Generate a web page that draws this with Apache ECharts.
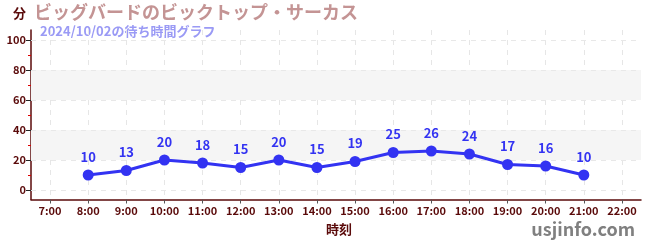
<!DOCTYPE html>
<html><head><meta charset="utf-8">
<script src="https://cdn.jsdelivr.net/npm/echarts@6/dist/echarts.min.js"></script>
<style>html,body{margin:0;padding:0;background:#fff}#c{width:650px;height:250px}</style>
</head><body><div id="c"></div>
<script>
const hours = [8, 9, 10, 11, 12, 13, 14, 15, 16, 17, 18, 19, 20, 21];
const waits = [10, 13, 20, 18, 15, 20, 15, 19, 25, 26, 24, 17, 16, 10];
const xTicks = [7, 8, 9, 10, 11, 12, 13, 14, 15, 16, 17, 18, 19, 20, 21, 22];
const yTicks = [0, 20, 40, 60, 80, 100];
const yMinor = [10, 30, 50, 70, 90];
const titleText = 'ビッグバードのビックトップ・サーカス';
const subText = '2024/10/02の待ち時間グラフ';

const chart = echarts.init(document.getElementById('c'), null, {renderer: 'canvas'});
const dark = '#5a0a0a';
const font = '"Noto Sans CJK JP", "Noto Sans", sans-serif';
chart.setOption({
  animation: false,
  textStyle: {fontFamily: font},
  graphic: [
    {type: 'text', left: 13, top: 7, style: {text: '分', fill: dark, font: 'bold 13px ' + font}},
    {type: 'text', left: 34, top: 3, style: {text: titleText, fill: '#c49494', font: 'bold 18px ' + font}},
    {type: 'text', left: 40, top: 25, style: {text: subText, fill: '#9a9af5', font: 'bold 13px ' + font}},
    {type: 'text', left: 326, top: 223, style: {text: '時刻', fill: dark, font: 'bold 13px ' + font}},
    {type: 'text', right: 15, top: 220, style: {text: 'usjinfo.com', fill: '#808080', font: 'bold 18px ' + font}}
  ],
  grid: {left: 31, right: 9, top: 30, bottom: 50.5, containLabel: false},
  xAxis: {
    type: 'value', min: 6.5, max: 22.5,
    axisLine: {show: true, onZero: false, lineStyle: {color: dark, width: 1.5}},
    axisTick: {show: true, customValues: xTicks, length: 4, lineStyle: {color: '#555'}},
    axisLabel: {customValues: xTicks, formatter: v => v + ':00', color: dark, fontSize: 11, fontWeight: 'bold', margin: 6},
    splitLine: {show: true, lineStyle: {color: '#e6e6e6', type: [5, 5]}}
  },
  yAxis: [{
    type: 'value', min: -6.33, max: 106.67,
    axisLine: {show: true, onZero: false, lineStyle: {color: dark, width: 1.5}},
    axisTick: {show: true, customValues: yTicks, length: 5, lineStyle: {color: '#222'}},
    axisLabel: {customValues: yTicks, color: dark, fontSize: 11, fontWeight: 'bold', margin: 5},
    splitLine: {show: false}
  }, {
    type: 'value', min: -6.33, max: 106.67, position: 'left',
    axisLine: {show: false, onZero: false},
    axisTick: {show: true, customValues: yMinor, length: 3, lineStyle: {color: '#dd0000'}},
    axisLabel: {show: false},
    splitLine: {show: false}
  }],
  series: [{
    type: 'line', data: [], markArea: {
      silent: true, itemStyle: {color: '#f5f5f5'},
      data: [[{yAxis: 20}, {yAxis: 40}], [{yAxis: 60}, {yAxis: 80}]]
    },
    markLine: {
      silent: true, symbol: 'none', label: {show: false},
      lineStyle: {color: '#e8e8e8', type: [5, 5], width: 1},
      data: yTicks.map(v => ({yAxis: v}))
    }
  }, {
    type: 'line',
    data: hours.map((h, i) => [h, waits[i]]),
    symbol: 'circle', symbolSize: 11,
    lineStyle: {color: '#3333f2', width: 3},
    itemStyle: {color: '#3333f2'},
    label: {show: true, position: 'top', distance: 6, color: '#3333f2', fontSize: 13, fontWeight: 'bold'},
    z: 5
  }]
});
</script></body></html>
